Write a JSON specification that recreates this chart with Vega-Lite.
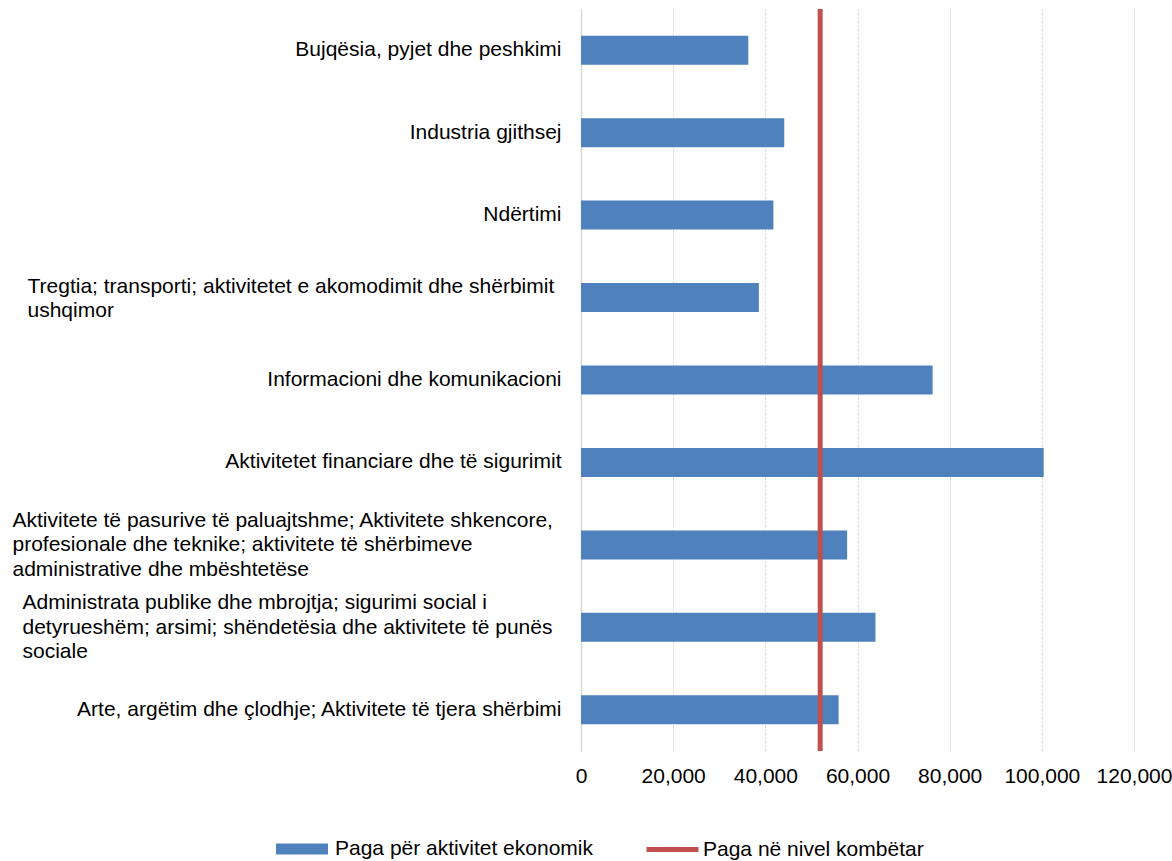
{
  "$schema": "https://vega.github.io/schema/vega-lite/v6.json",
  "autosize": {"type": "none"},
  "width": 553,
  "height": 742,
  "padding": {"left": 581, "top": 9, "right": 38, "bottom": 110},
  "background": "white",
  "config": {"font": "Liberation Sans", "view": {"stroke": null}},
  "datasets": {
    "sectors": [
      {"sector": "Bujqësia, pyjet dhe peshkimi", "wage": 36300, "series": "Paga për aktivitet ekonomik"},
      {"sector": "Industria gjithsej", "wage": 44100, "series": "Paga për aktivitet ekonomik"},
      {"sector": "Ndërtimi", "wage": 41750, "series": "Paga për aktivitet ekonomik"},
      {"sector": "Tregtia; transporti; aktivitetet e akomodimit dhe shërbimit\nushqimor", "wage": 38600, "series": "Paga për aktivitet ekonomik"},
      {"sector": "Informacioni dhe komunikacioni", "wage": 76300, "series": "Paga për aktivitet ekonomik"},
      {"sector": "Aktivitetet financiare dhe të sigurimit", "wage": 100400, "series": "Paga për aktivitet ekonomik"},
      {"sector": "Aktivitete të pasurive të paluajtshme; Aktivitete shkencore,\nprofesionale dhe teknike; aktivitete të shërbimeve\nadministrative dhe mbështetëse", "wage": 57750, "series": "Paga për aktivitet ekonomik"},
      {"sector": "Administrata publike dhe mbrojtja; sigurimi social i\ndetyrueshëm; arsimi; shëndetësia dhe aktivitete të punës\nsociale", "wage": 63900, "series": "Paga për aktivitet ekonomik"},
      {"sector": "Arte, argëtim dhe çlodhje; Aktivitete të tjera shërbimi", "wage": 55900, "series": "Paga për aktivitet ekonomik"}
    ],
    "national": [
      {"wage": 51900, "series": "Paga në nivel kombëtar"}
    ]
  },
  "layer": [
    {
      "data": {"name": "sectors"},
      "mark": {"type": "bar"},
      "encoding": {
        "y": {
          "field": "sector", "type": "nominal", "sort": null,
          "scale": {"paddingInner": 0.648, "paddingOuter": 0.324},
          "axis": {
            "title": null, "ticks": false, "grid": false,
            "domain": true, "domainColor": "#D9D9D9", "domainWidth": 1.5,
            "labelExpr": "split(datum.label, '\\n')",
            "labelFont": "Liberation Sans", "labelFontSize": 21, "labelColor": "#000000",
            "labelAlign": {"condition": {"test": "indexof(datum.value, '\\n') >= 0", "value": "left"}, "value": "right"},
            "labelPadding": {"condition": [
              {"test": "indexof(datum.value, 'Tregtia') == 0", "value": 554},
              {"test": "indexof(datum.value, 'Aktivitete të') == 0", "value": 569},
              {"test": "indexof(datum.value, 'Administrata') == 0", "value": 559}
            ], "value": 20},
            "labelOffset": {"condition": [
              {"test": "indexof(datum.value, 'Tregtia') == 0", "value": -11},
              {"test": "indexof(datum.value, 'Aktivitete të') == 0", "value": -24},
              {"test": "indexof(datum.value, 'Administrata') == 0", "value": -24}
            ], "value": 0},
            "labelLimit": 700, "labelLineHeight": 24.5
          }
        },
        "x": {
          "field": "wage", "type": "quantitative",
          "scale": {"domain": [0, 120000], "nice": false},
          "axis": {
            "title": null, "values": [0, 20000, 40000, 60000, 80000, 100000, 120000],
            "format": ",.0f", "ticks": false, "domain": false,
            "labelOverlap": false, "labelFlush": false, "labelBound": false,
            "grid": true, "gridColor": "#D0D0D0", "gridDash": [2, 2], "gridWidth": 1,
            "labelFont": "Liberation Sans", "labelFontSize": 21, "labelColor": "#000000",
            "labelPadding": 14
          }
        },
        "color": {
          "field": "series", "type": "nominal",
          "scale": {"range": ["#4F81BD"]},
          "legend": {
            "orient": "none", "legendX": -305, "legendY": 814, "title": null,
            "symbolType": "M-1,-0.21H1V0.21H-1Z", "symbolSize": 2704,
            "symbolStrokeWidth": 0, "symbolOpacity": 1,
            "labelFont": "Liberation Sans", "labelFontSize": 21, "labelColor": "#000000",
            "labelOffset": 7, "labelLimit": 400
          }
        }
      }
    },
    {
      "data": {"name": "national"},
      "mark": {"type": "rule", "strokeWidth": 5},
      "encoding": {
        "x": {"field": "wage", "type": "quantitative"},
        "stroke": {
          "field": "series", "type": "nominal",
          "scale": {"range": ["#C0504D"]},
          "legend": {
            "orient": "none", "legendX": 63, "legendY": 812, "title": null,
            "symbolType": "stroke", "symbolSize": 2704, "symbolStrokeWidth": 5,
            "labelFont": "Liberation Sans", "labelFontSize": 21, "labelColor": "#000000",
            "labelOffset": 2, "labelLimit": 400
          }
        }
      }
    }
  ]
}
